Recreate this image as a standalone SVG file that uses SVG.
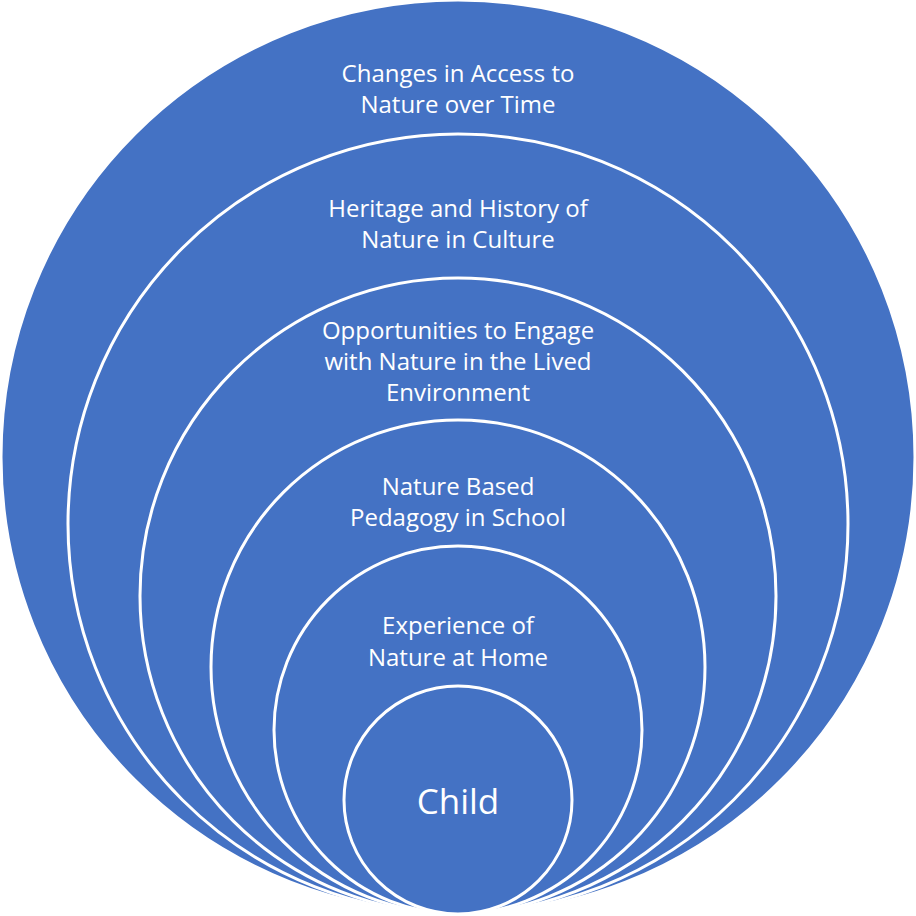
<svg xmlns="http://www.w3.org/2000/svg" width="916" height="916" viewBox="0 0 916 916">
<style>
.c{fill:#4472C4;stroke:#fff;stroke-width:3}
.t{fill:#fff;font-family:"Open Sans","Liberation Sans",sans-serif;font-size:24px;text-anchor:middle}
</style>
<rect width="916" height="916" fill="#fff"/>
<g id="n1"><circle class="c" cx="458" cy="457" r="457"/><text class="t" x="458" y="82">Changes in Access to</text><text class="t" x="458" y="113">Nature over Time</text></g>
<g id="n2"><circle class="c" cx="458" cy="524" r="390"/><text class="t" x="458" y="217">Heritage and History of</text><text class="t" x="458" y="248">Nature in Culture</text></g>
<g id="n3"><circle class="c" cx="458" cy="596" r="318"/><text class="t" x="458" y="339">Opportunities to Engage</text><text class="t" x="458" y="370">with Nature in the Lived</text><text class="t" x="458" y="401">Environment</text></g>
<g id="n4"><circle class="c" cx="458" cy="667" r="247"/><text class="t" x="458" y="495">Nature Based</text><text class="t" x="458" y="526">Pedagogy in School</text></g>
<g id="n5"><circle class="c" cx="458" cy="730" r="184"/><text class="t" x="458" y="634">Experience of</text><text class="t" x="458" y="666">Nature at Home</text></g>
<g id="n6"><circle class="c" cx="458" cy="800" r="114"/><text class="t" x="458" y="814" style="font-size:35px">Child</text></g>
<g id="connectors"/>
</svg>
